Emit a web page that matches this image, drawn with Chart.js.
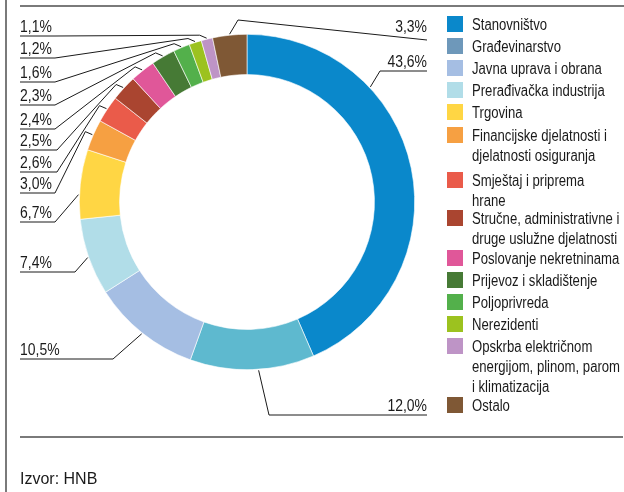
<!DOCTYPE html>
<html>
<head>
<meta charset="utf-8">
<script src="https://cdn.jsdelivr.net/npm/chart.js@4.4.0/dist/chart.umd.min.js"></script>
<style>
  html, body { margin: 0; padding: 0; background: #fff; }
  #wrap { width: 624px; height: 492px; position: relative; }
</style>
</head>
<body>
<div id="wrap"><canvas id="chart" width="624" height="492"></canvas></div>
<script>
// categories (multi-line names are arrays, as Chart.js allows)
const categories = [
  'Stanovništvo',
  'Građevinarstvo',
  'Javna uprava i obrana',
  'Prerađivačka industrija',
  'Trgovina',
  ['Financijske djelatnosti i', 'djelatnosti osiguranja'],
  ['Smještaj i priprema', 'hrane'],
  ['Stručne, administrativne i', 'druge uslužne djelatnosti'],
  'Poslovanje nekretninama',
  'Prijevoz i skladištenje',
  'Poljoprivreda',
  'Nerezidenti',
  ['Opskrba električnom', 'energijom, plinom, parom', 'i klimatizacija'],
  'Ostalo'
];

// share of total, %
const shares = [43.6, 12.0, 10.5, 7.4, 6.7, 3.0, 2.6, 2.5, 2.4, 2.3, 1.6, 1.2, 1.1, 3.3];

const sliceColors = [
  '#0a88cb', '#5eb9cf', '#a5bee3', '#b1dde8', '#ffd644', '#f6a042', '#ea5b4a',
  '#aa4530', '#e05799', '#467a35', '#53b04b', '#9cc21f', '#be94c6', '#7f5835'
];
// the legend swatch for Građevinarstvo differs from its slice in the original
const legendColors = [
  '#0a88cb', '#6e98ba', '#a5bee3', '#b1dde8', '#ffd644', '#f6a042', '#ea5b4a',
  '#aa4530', '#e05799', '#467a35', '#53b04b', '#9cc21f', '#be94c6', '#7f5835'
];

const sourceText = 'Izvor: HNB';

// where each value label sits (layout only)
const labelSpots = [
  { side: 'right', y: 71, x1: 380, at: 0.3 },
  { side: 'right', y: 415, x1: 269, at: 0.45 },
  { side: 'left', y: 359, x1: 113 },
  { side: 'left', y: 272, x1: 75 },
  { side: 'left', y: 222, x1: 55, at: 0.35 },
  { side: 'left', y: 193, x1: 55, elbow: true },
  { side: 'left', y: 172, x1: 57, elbow: true },
  { side: 'left', y: 150, x1: 57, elbow: true },
  { side: 'left', y: 129, x1: 55, elbow: true },
  { side: 'left', y: 105, x1: 55, elbow: true },
  { side: 'left', y: 82, x1: 55, elbow: true },
  { side: 'left', y: 58, x1: 55, elbow: true },
  { side: 'left', y: 36, x1: 55, elbow: true },
  { side: 'top', y: 20, x1: 238, yEnd: 40 }
];
const legendRows = [24, 46, 68, 90, 112, 135, 180, 218, 258, 280, 302, 324, 346, 405];

const fmt = v => v.toFixed(1).replace('.', ',') + '%';

// condensed look: Liberation Sans squeezed horizontally
function narrowText(ctx, txt, x, y, align) {
  ctx.save();
  ctx.translate(x, y);
  ctx.scale(0.82, 1);
  ctx.textAlign = align;
  ctx.fillText(txt, 0, 0);
  ctx.restore();
}

const decorations = {
  id: 'decorations',
  afterDraw(chart) {
    const ctx = chart.ctx;
    const arcs = chart.getDatasetMeta(0).data;
    ctx.save();

    // frame
    ctx.strokeStyle = '#7a7a7a';
    ctx.lineWidth = 2;
    ctx.beginPath();
    ctx.moveTo(6, 0); ctx.lineTo(6, 492);
    ctx.moveTo(20, 6); ctx.lineTo(624, 6);
    ctx.moveTo(20, 437); ctx.lineTo(623, 437);
    ctx.stroke();

    // value labels with leader lines
    ctx.strokeStyle = '#1a1a1a';
    ctx.fillStyle = '#1a1a1a';
    ctx.lineWidth = 1;
    ctx.font = '17px "Liberation Sans", Arial, sans-serif';
    const right = 427;
    arcs.forEach((arc, i) => {
      const spot = labelSpots[i];
      const f = spot.at == null ? 0.5 : spot.at;
      const a = arc.startAngle + (arc.endAngle - arc.startAngle) * f;
      const r = arc.outerRadius + 1;
      const px = arc.x + Math.cos(a) * r;
      const py = arc.y + Math.sin(a) * r;
      const txt = fmt(shares[i]);
      ctx.beginPath();
      if (spot.side === 'left') {
        ctx.moveTo(20, spot.y);
        ctx.lineTo(spot.x1, spot.y);
        if (spot.elbow) ctx.lineTo(px - 7, py - 3);
        ctx.lineTo(px, py);
        ctx.stroke();
        narrowText(ctx, txt, 20, spot.y - 4, 'left');
      } else if (spot.side === 'right') {
        ctx.moveTo(px, py);
        ctx.lineTo(spot.x1, spot.y);
        ctx.lineTo(right, spot.y);
        ctx.stroke();
        narrowText(ctx, txt, right, spot.y - 4, 'right');
      } else {
        ctx.moveTo(px, py);
        ctx.lineTo(spot.x1, spot.y);
        ctx.lineTo(right, spot.yEnd);
        ctx.stroke();
        narrowText(ctx, txt, right, spot.y + 12, 'right');
      }
    });

    // legend
    ctx.font = '16px "Liberation Sans", Arial, sans-serif';
    categories.forEach((name, i) => {
      const cy = legendRows[i];
      ctx.fillStyle = legendColors[i];
      ctx.fillRect(447, cy - 8, 16, 16);
      ctx.fillStyle = '#1a1a1a';
      const lines = Array.isArray(name) ? name : [name];
      lines.forEach((ln, k) => narrowText(ctx, ln, 472, cy + 6 + k * 20, 'left'));
    });

    // source
    ctx.textAlign = 'left';
    ctx.fillText(sourceText, 20, 484);
    ctx.restore();
  }
};

new Chart(document.getElementById('chart'), {
  type: 'doughnut',
  data: {
    labels: categories,
    datasets: [{
      data: shares,
      backgroundColor: sliceColors,
      borderColor: '#ffffff',
      borderWidth: 0.6
    }]
  },
  options: {
    responsive: false,
    animation: false,
    cutout: '76%',
    layout: { padding: { left: 79, top: 34, right: 209, bottom: 122 } },
    plugins: {
      legend: { display: false },
      tooltip: { enabled: false }
    }
  },
  plugins: [decorations]
});
</script>
</body>
</html>
